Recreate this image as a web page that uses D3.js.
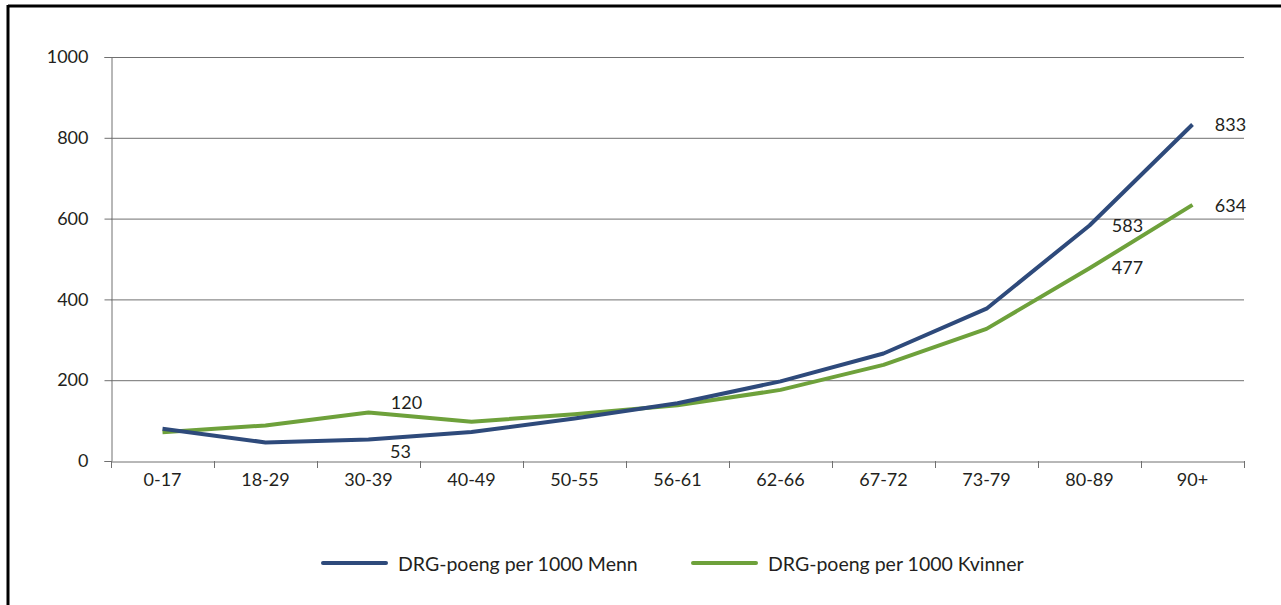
<!DOCTYPE html>
<html><head><meta charset="utf-8">
<script src="https://cdn.jsdelivr.net/npm/d3@7"></script>
<style>
html,body{margin:0;padding:0;background:#fff;}
svg{display:block;font-family:Lato,"Open Sans",sans-serif;}
</style></head>
<body>
<svg id="c" width="1281" height="605"></svg>
<script>
const categories = ["0-17","18-29","30-39","40-49","50-55","56-61","62-66","67-72","73-79","80-89","90+"];
const menn = [80,46,53,72,105,143,197,266,377,583,833];
const kvinner = [71,88,120,97,116,138,176,238,327,477,634];
const yTicks = [0,200,400,600,800,1000];
const seriesNames = ["DRG-poeng per 1000 Menn","DRG-poeng per 1000 Kvinner"];
const labeledIdx = [2,9,10];

const svg = d3.select("#c");
const colM = "#2e4a7b", colK = "#6ea13b";
const txt = "#231f20";
// frame
svg.append("line").attr("x1",8).attr("x2",1281).attr("y1",6).attr("y2",6).attr("stroke","#000").attr("stroke-width",3);
svg.append("line").attr("x1",8).attr("x2",8).attr("y1",5).attr("y2",605).attr("stroke","#000").attr("stroke-width",3);

const L=111,R=1244,T=57,B=461;
const x = d3.scaleBand().domain(categories).range([L,R]).padding(0);
const y = d3.scaleLinear().domain([0,1000]).range([B,T]);

// grid
svg.append("g").selectAll("line").data(yTicks.filter(d=>d>0)).join("line")
 .attr("x1",L).attr("x2",R).attr("y1",d=>y(d)+0.5).attr("y2",d=>y(d)+0.5)
 .attr("stroke","#707070").attr("stroke-width",1);

// y axis
const ya = svg.append("g").attr("transform",`translate(${L+0.5},0)`).call(d3.axisLeft(y).tickValues(yTicks).tickSize(7).tickPadding(16).tickFormat(d3.format("d")));
ya.select(".domain").attr("stroke","#707070");
ya.selectAll(".tick line").attr("stroke","#707070");
ya.selectAll("text").attr("font-size",18).attr("fill",txt).attr("font-family","Lato,'Open Sans',sans-serif");

// x axis
const xa = svg.append("g").attr("transform",`translate(0,${B+0.5})`).call(d3.axisBottom(x).tickSize(0).tickPadding(12));
xa.select(".domain").attr("stroke","#707070");
xa.selectAll("text").attr("font-size",18).attr("fill",txt).attr("font-family","Lato,'Open Sans',sans-serif");
const edges = categories.map(c=>x(c)).concat([R]);
svg.append("g").selectAll("line").data(edges).join("line")
 .attr("x1",d=>d+0.5).attr("x2",d=>d+0.5).attr("y1",B).attr("y2",B+7).attr("stroke","#707070");

const cx = c => x(c)+x.bandwidth()/2;
const line = d3.line().x((d,i)=>cx(categories[i])).y(d=>y(d));
svg.append("path").datum(kvinner).attr("d",line).attr("fill","none").attr("stroke",colK).attr("stroke-width",4).attr("stroke-linejoin","round");
svg.append("path").datum(menn).attr("d",line).attr("fill","none").attr("stroke",colM).attr("stroke-width",4).attr("stroke-linejoin","round");

// data labels
const lab = (i,v,dx,dy)=>svg.append("text").attr("x",cx(categories[i])+dx).attr("y",y(v)+dy)
 .attr("font-size",18).attr("fill",txt).attr("text-anchor","middle").attr("dominant-baseline","central").text(v);
const offM = {2:[32,11],9:[38,0],10:[38,0]};
const offK = {2:[38,-11],9:[38,-1],10:[38,0]};
labeledIdx.forEach(i=>{lab(i,menn[i],offM[i][0],offM[i][1]);lab(i,kvinner[i],offK[i][0],offK[i][1]);});

// legend
const leg = [{n:seriesNames[0],c:colM,x:323},{n:seriesNames[1],c:colK,x:693}];
const lg = svg.append("g").selectAll("g").data(leg).join("g").attr("transform",d=>`translate(${d.x},563)`);
lg.append("line").attr("x1",0).attr("x2",63).attr("stroke",d=>d.c).attr("stroke-width",4).attr("stroke-linecap","round");
lg.append("text").attr("x",75).attr("dominant-baseline","central").attr("font-size",19.5).attr("fill",txt).text(d=>d.n);
</script>
</body></html>
